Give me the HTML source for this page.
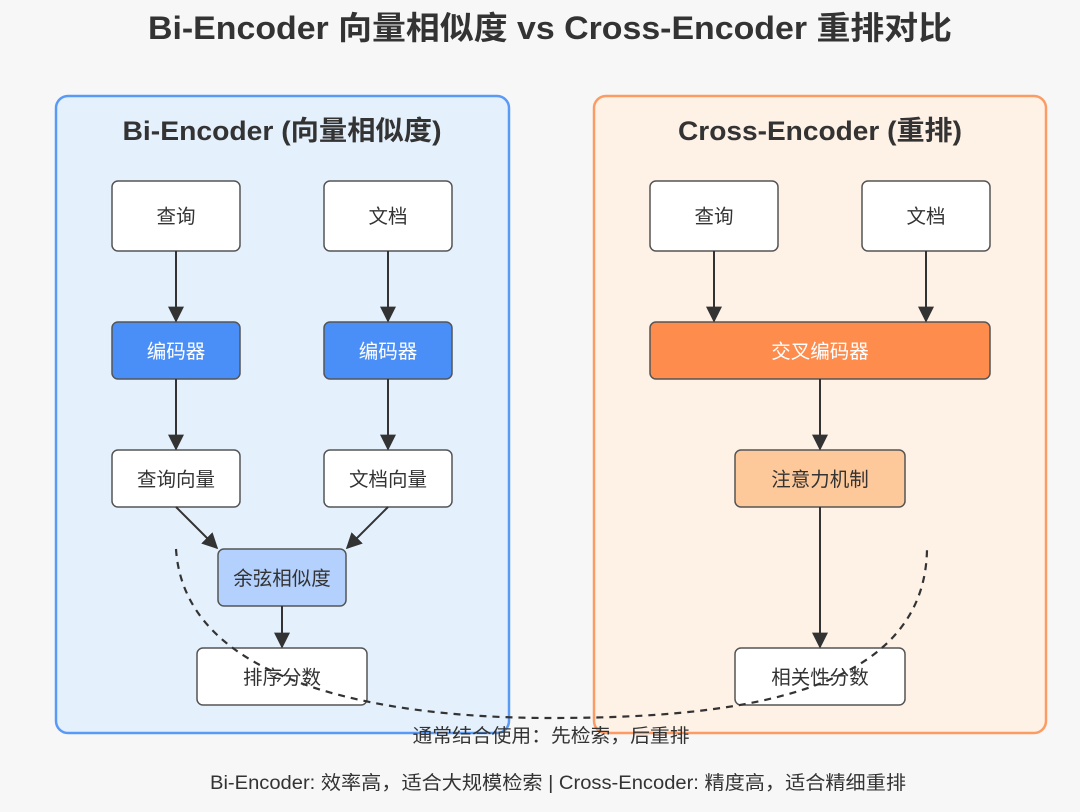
<!DOCTYPE html>
<html><head><meta charset="utf-8"><style>
html,body{margin:0;padding:0;background:#f7f7f7;}
svg{display:block;}
text{font-family:"Liberation Sans","Noto Sans CJK SC",sans-serif;fill:#333;}
</style></head><body>
<svg width="1080" height="812" viewBox="0 0 1080 812" xmlns="http://www.w3.org/2000/svg">
<defs><marker id="a" viewBox="0 0 10 10" refX="9" refY="5" markerWidth="8" markerHeight="8" orient="auto"><path d="M0,0 L10,5 L0,10 z" fill="#333"/></marker></defs>
<rect width="1080" height="812" fill="#f7f7f7"/>
<text x="550" y="39" font-size="32" font-weight="bold" text-anchor="middle" textLength="804" lengthAdjust="spacingAndGlyphs">Bi-Encoder 向量相似度 vs Cross-Encoder 重排对比</text>
<rect x="56" y="96" width="453" height="637" rx="12" fill="#e4f1fd" stroke="#5a9af7" stroke-width="2.5"/>
<rect x="594" y="96" width="452" height="637" rx="12" fill="#fef1e5" stroke="#fc9b63" stroke-width="2.5"/>
<text x="282" y="140" font-size="27" font-weight="bold" text-anchor="middle" textLength="319" lengthAdjust="spacingAndGlyphs">Bi-Encoder (向量相似度)</text>
<text x="820" y="140" font-size="27" font-weight="bold" text-anchor="middle" textLength="284" lengthAdjust="spacingAndGlyphs">Cross-Encoder (重排)</text>
<g stroke="#555" stroke-width="1.5">
<rect x="112" y="181" width="128" height="70" rx="6" fill="#fff"/>
<rect x="324" y="181" width="128" height="70" rx="6" fill="#fff"/>
<rect x="112" y="322" width="128" height="57" rx="6" fill="#4a8ff8"/>
<rect x="324" y="322" width="128" height="57" rx="6" fill="#4a8ff8"/>
<rect x="112" y="450" width="128" height="57" rx="6" fill="#fff"/>
<rect x="324" y="450" width="128" height="57" rx="6" fill="#fff"/>
<rect x="218" y="549" width="128" height="57" rx="6" fill="#b3d1fc"/>
<rect x="197" y="648" width="170" height="57" rx="6" fill="#fff"/>
<rect x="650" y="181" width="128" height="70" rx="6" fill="#fff"/>
<rect x="862" y="181" width="128" height="70" rx="6" fill="#fff"/>
<rect x="650" y="322" width="340" height="57" rx="6" fill="#fe8c4c"/>
<rect x="735" y="450" width="170" height="57" rx="6" fill="#fec99a"/>
<rect x="735" y="648" width="170" height="57" rx="6" fill="#fff"/>
</g>
<g stroke="#333" stroke-width="2" fill="none" marker-end="url(#a)">
<line x1="176" y1="251" x2="176" y2="321"/>
<line x1="388" y1="251" x2="388" y2="321"/>
<line x1="176" y1="379" x2="176" y2="449"/>
<line x1="388" y1="379" x2="388" y2="449"/>
<line x1="176" y1="507" x2="217" y2="548"/>
<line x1="388" y1="507" x2="347" y2="548"/>
<line x1="282" y1="606" x2="282" y2="647"/>
<line x1="714" y1="251" x2="714" y2="321"/>
<line x1="926" y1="251" x2="926" y2="321"/>
<line x1="820" y1="379" x2="820" y2="449"/>
<line x1="820" y1="507" x2="820" y2="647"/>
</g>
<path d="M176 549 C 185 690, 400 718, 550 718 C 720 718, 925 700, 927 549" fill="none" stroke="#333" stroke-width="2.2" stroke-dasharray="7,6"/>
<g font-size="19.5" text-anchor="middle">
<text x="176" y="223">查询</text><text x="388" y="223">文档</text>
<text x="176" y="358" style="fill:#fff">编码器</text><text x="388" y="358" style="fill:#fff">编码器</text>
<text x="176" y="486">查询向量</text><text x="388" y="486">文档向量</text>
<text x="282" y="585">余弦相似度</text><text x="282" y="684">排序分数</text>
<text x="714" y="223">查询</text><text x="926" y="223">文档</text>
<text x="820" y="358" style="fill:#fff">交叉编码器</text>
<text x="820" y="486">注意力机制</text><text x="820" y="684">相关性分数</text>
<text x="551" y="742" font-size="19" textLength="277" lengthAdjust="spacingAndGlyphs">通常结合使用：先检索，后重排</text>
<text x="558" y="789" font-size="19" textLength="696" lengthAdjust="spacingAndGlyphs">Bi-Encoder: 效率高，适合大规模检索 | Cross-Encoder: 精度高，适合精细重排</text>
</g>
</svg>
</body></html>
